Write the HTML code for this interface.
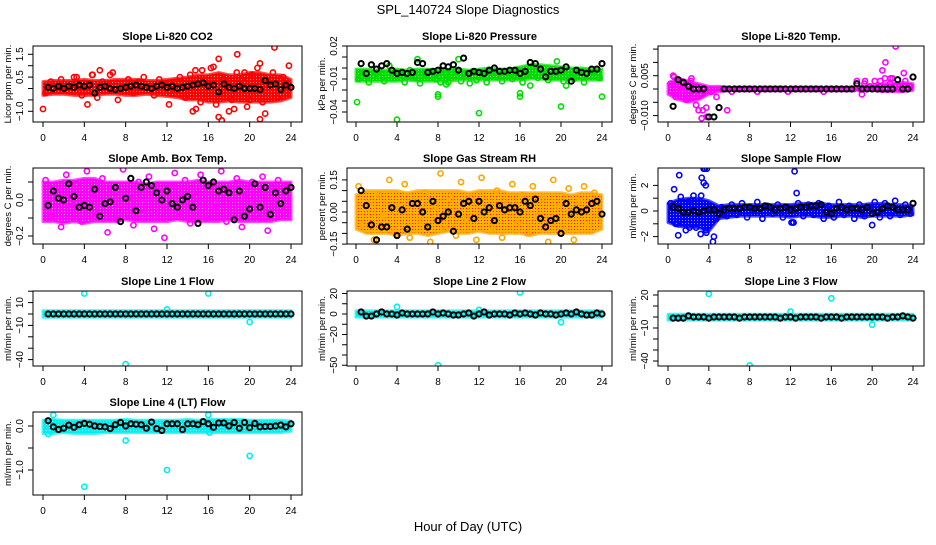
<!DOCTYPE html>
<html><head><meta charset="utf-8"><style>
body{margin:0;background:#fff}
svg text{font-family:"Liberation Sans",Arial,sans-serif}
</style></head><body>
<svg id="chart" width="936" height="540" xmlns="http://www.w3.org/2000/svg">
<rect width="936" height="540" fill="#fff"/>
<text x="468" y="14" text-anchor="middle" font-size="13">SPL_140724  Slope Diagnostics</text>
<text x="468" y="531" text-anchor="middle" font-size="13">Hour of Day (UTC)</text>
</svg>
<script>
// ---- data ----
const hourTicks=[0,4,8,12,16,20,24];
const co2Lo=[-0.3,-0.25,-0.25,-0.3,-0.3,-0.3,-0.25,-0.25,-0.3,-0.3,-0.25,-0.3,-0.35,-0.4,-0.5,-0.5,-0.6,-0.6,-0.55,-0.6,-0.6,-0.6,-0.6,-0.55,-0.4];
const co2Hi=[0.3,0.35,0.35,0.35,0.4,0.35,0.35,0.4,0.4,0.4,0.35,0.35,0.4,0.45,0.5,0.6,0.6,0.7,0.6,0.6,0.7,0.7,0.6,0.6,0.4];
const co2Col=[-0.2,0.3,0.1,0.4,-0.1,0.2,0.5,-0.3,0.1,0.6,-0.4,0.3,0.2,0.7,-0.5,0.1,0.4,-0.2,0.3,0.5,0.1,-0.3,0.4,0.2,-0.1,0.3,0.5,-0.4,0.6,0.8,-0.6,0.2,0.9,-0.7,0.5,0.3,-0.5,0.7,0.4,-0.8,0.6,0.9,-0.6,0.3,0.7,-0.4,0.5,0.2];
const co2Blk=[0.05,0.0,0.1,0.0,0.1,0.05,0.15,0.1,0.15,-0.2,0.05,0.1,0.0,-0.05,0.0,0.05,0.1,0.15,0.1,0.05,0.0,0.1,0.15,0.05,0.1,0.0,0.05,0.1,0.15,0.2,0.25,0.1,0.15,-0.15,0.2,0.05,0.0,0.1,0.0,0.0,0.0,-0.05,0.35,0.15,0.2,-0.05,0.15,0.05];
const co2OutX=[0,4.3,5.5,3,4.8,16.5,17,18.8,17,17.3,21,21.5,22.4,23.8,21,14.5,14.8,18,18.5,20,19.5,6.5,12.2,15.4];
const co2OutY=[-0.9,-0.7,0.8,0.5,0.6,0.95,1.3,1.5,-1.25,-1.4,-1.35,-1.1,1.8,1.0,1.1,-1.0,-0.9,-1.0,-0.9,-0.5,0.7,0.6,-0.7,0.8];

const presLo=[-0.012,-0.012,-0.012,-0.012,-0.012,-0.011,-0.012,-0.012,-0.012,-0.012,-0.011,-0.011,-0.011,-0.011,-0.011,-0.011,-0.011,-0.010,-0.010,-0.011,-0.011,-0.011,-0.011,-0.011,-0.011];
const presHi=[-0.001,-0.001,-0.002,-0.002,-0.001,-0.002,-0.001,-0.001,-0.002,-0.001,-0.001,-0.002,-0.001,0.000,-0.001,-0.001,0.001,0.003,0.003,0.002,0.001,0.000,0.000,-0.001,-0.001];
const presCol=[-0.010,-0.004,-0.013,-0.007,-0.003,-0.012,0.002,-0.009,-0.005,-0.013,-0.002,-0.008,-0.014,-0.006,-0.003,-0.010,-0.013,-0.005,-0.009,-0.003,-0.012,-0.007,-0.004,-0.011,-0.006,-0.013,-0.003,-0.008,-0.012,-0.005,-0.010,-0.002,-0.013,-0.006,0.002,-0.009,-0.004,-0.011,-0.007,-0.003,-0.012,-0.006,-0.010,-0.004,-0.013,-0.007,-0.003,-0.009];
const presBlk=[0.004,-0.005,0.003,-0.001,0.002,0.004,-0.002,-0.005,-0.004,-0.005,-0.004,0.005,0.004,-0.004,-0.003,-0.002,0.002,0.001,0.003,-0.002,0.009,-0.005,-0.003,-0.004,-0.005,-0.002,0.000,-0.003,-0.003,-0.002,-0.002,-0.005,-0.003,0.005,0.004,-0.001,-0.008,-0.003,-0.003,-0.002,0.001,-0.012,-0.002,-0.004,-0.005,-0.001,-0.001,0.004];
const presOutX=[0.1,4,8,8,12,16,16,20,24,11.1,8.8,9,17,20.5,6,10,19.6];
const presOutY=[-0.031,-0.047,-0.024,-0.026,-0.041,-0.023,-0.026,-0.035,-0.026,-0.014,-0.015,-0.013,-0.016,-0.016,0.008,0.008,0.006];

const tempLo=[-0.002,-0.004,-0.005,-0.004,-0.002,-0.001,-0.0005,0,0,0,0,0,0,0,0,0,0,0,0,-0.0005,-0.0005,-0.001,-0.001,-0.001,-0.0005];
const tempHi=[0.002,0.004,0.003,0.002,0.001,0.001,0.0005,0.0003,0.0003,0.0003,0.0003,0.0003,0.0003,0.0003,0.0003,0.0003,0.0003,0.0003,0.0003,0.001,0.0015,0.002,0.002,0.0025,0.002];
const tempCol=[0.002,-0.003,0.001,-0.004,0.003,-0.006,-0.002,-0.007,-0.001,-0.003,0,0,-0.001,0,0,0,0,-0.001,0,0,0,0,0,-0.001,0,0,0,0,0,0,-0.001,0,0,0,0,0,0,0,0.002,0.001,0.003,0.001,0.004,0.002,0.001,0,0.003,0.001];
const tempBlk=[-0.0065,0.0035,0.0025,0.001,0,0,0,-0.0105,-0.0105,-0.007,0,0,0,0,0,0,0,0,0,0,0,0,0,0,0,0,0,0,0,0,0,0,0,0,0,0,0.002,0,0,0,0,0,0,0,0.0035,0,0,0.0045];
const tempOutX=[0.5,0.6,2.3,3,3.4,3.3,3.8,5.8,20.8,21,21.3,22.3,23.1,18.5,19.3,19,21.8,22];
const tempOutY=[0.005,0.0045,0.004,-0.008,-0.008,-0.011,-0.0105,-0.008,0.003,0.007,0.010,0.016,0.006,0.003,0.003,-0.002,0.004,0.004];

const ambLo=[-0.12,-0.12,-0.13,-0.12,-0.13,-0.12,-0.12,-0.12,-0.11,-0.12,-0.12,-0.12,-0.12,-0.11,-0.12,-0.12,-0.12,-0.12,-0.11,-0.12,-0.12,-0.12,-0.12,-0.11,-0.11];
const ambHi=[0.10,0.10,0.11,0.11,0.12,0.12,0.10,0.10,0.10,0.10,0.09,0.10,0.10,0.10,0.10,0.11,0.10,0.10,0.10,0.11,0.10,0.10,0.10,0.10,0.10];
const ambCol=[0.11,-0.09,0.05,-0.15,0.14,-0.02,0.09,-0.12,0.16,0.03,-0.08,0.12,-0.18,0.06,-0.11,0.17,0.01,-0.14,0.10,-0.05,0.13,-0.16,0.04,-0.21,0.08,0.15,-0.07,0.11,-0.13,0.02,0.14,-0.10,0.09,-0.04,0.16,-0.12,0.06,0.12,-0.15,0.03,0.10,-0.08,0.13,-0.17,0.07,0.11,-0.06,0.08];
const ambBlk=[-0.03,0.05,0.01,0.0,0.09,0.02,-0.04,-0.03,-0.04,0.06,-0.09,-0.02,-0.01,0.07,-0.12,0.01,0.12,-0.06,0.07,0.10,0.08,0.04,0.0,0.05,-0.02,-0.04,0.0,0.02,-0.04,-0.13,0.11,0.08,0.10,0.05,0.06,0.04,-0.11,0.05,-0.09,-0.05,0.09,-0.04,0.07,-0.08,0.04,-0.02,0.05,0.07];

const rhLo=[-0.08,-0.1,-0.1,-0.1,-0.11,-0.1,-0.1,-0.11,-0.1,-0.09,-0.1,-0.1,-0.09,-0.1,-0.1,-0.1,-0.1,-0.11,-0.1,-0.1,-0.1,-0.1,-0.1,-0.1,-0.08];
const rhHi=[0.08,0.1,0.1,0.1,0.1,0.09,0.1,0.1,0.1,0.1,0.1,0.09,0.1,0.1,0.1,0.09,0.09,0.09,0.09,0.09,0.09,0.08,0.09,0.09,0.08];
const rhCol=[0.12,-0.06,0.04,-0.13,0.08,-0.02,0.15,-0.09,0.02,0.13,-0.12,0.05,-0.04,0.09,-0.14,0.03,0.18,-0.08,0.06,-0.11,0.14,-0.03,0.07,-0.13,0.16,0.01,-0.07,0.10,-0.12,0.04,0.13,-0.05,0.08,-0.10,0.12,-0.02,0.06,-0.14,0.15,0.02,-0.09,0.11,-0.13,0.05,0.12,-0.06,0.09,-0.02];
const rhBlk=[0.10,0.03,-0.06,-0.13,-0.07,-0.07,0.02,-0.11,0.01,-0.08,0.04,0.04,0.0,-0.07,0.05,-0.04,-0.02,0.0,-0.09,-0.01,0.04,0.05,-0.03,0.05,0.0,0.02,-0.04,0.03,0.01,0.02,0.02,0.0,0.05,0.03,0.06,-0.03,-0.07,-0.04,-0.03,-0.10,0.04,-0.01,0.01,0.0,0.01,0.04,0.05,-0.01];

const sfLo=[-0.9,-1.2,-1.3,-1.3,-1.6,-0.6,-0.5,-0.4,-0.4,-0.4,-0.4,-0.4,-0.5,-0.4,-0.4,-0.5,-0.5,-0.4,-0.4,-0.5,-0.4,-0.4,-0.4,-0.4,-0.3];
const sfHi=[0.6,0.9,1.0,1.0,0.8,0.4,0.5,0.5,0.5,0.5,0.5,0.5,0.5,0.6,0.6,0.6,0.5,0.5,0.5,0.5,0.6,0.6,0.5,0.5,0.4];
const sfCol=[0.6,-1.0,1.1,-1.5,0.8,-1.3,1.2,-1.7,0.4,-0.6,0.3,-0.4,0.5,-0.3,0.6,-0.5,0.2,0.7,-0.6,0.4,-0.2,0.5,-0.5,0.3,-0.9,0.6,-0.4,0.5,-0.3,0.6,-0.6,0.4,-0.5,0.7,-0.3,0.4,-0.6,0.5,-0.4,0.3,0.7,-0.5,0.6,-0.4,0.8,-0.3,0.5,-0.2];
const sfBlk=[0.3,0.2,-0.1,-0.1,0.0,-0.1,0.0,0.1,0.1,-0.2,0.1,0.2,0.2,0.2,0.3,0.3,0.2,0.2,0.4,0.3,0.1,0.2,0.3,0.1,0.2,0.3,0.3,0.4,0.4,0.5,-0.1,-0.2,0.2,0.3,0.1,0.2,0.2,0.1,0.3,-0.2,-0.1,0.2,0.4,0.3,0.1,0.1,0.1,0.6];
const sfOutX=[1.1,0.6,3.5,3.6,3.8,3.3,3.5,3.7,1,4.4,4.5,12.4,12.6,12.3,12.1,20,2.1,3.2,3.7,0.9,2.5];
const sfOutY=[2.8,1.7,3.3,3.3,3.3,2.6,2.2,2.0,-1.9,-2.4,-2.0,3.1,1.4,-0.9,-0.9,-1.1,-1.3,-1.8,-1.5,-1.0,1.2];

const l1Lo=[-2.8,-2.8,-2.8,-2.8,-2.8,-2.8,-2.8,-2.8,-2.8,-2.8,-2.8,-2.8,-2.8,-2.8,-2.8,-2.8,-2.8,-2.8,-2.8,-2.8,-2.8,-2.8,-2.8,-2.8,-2.8];
const l1Hi=[2.8,2.8,2.8,2.8,2.8,2.8,2.8,2.8,2.8,2.8,2.8,2.8,2.8,2.8,2.8,2.8,2.8,2.8,2.8,2.8,2.8,2.8,2.8,2.8,2.8];
const l1Blk=[0,0,0,0,0,0,0,0,0,0,0,0,0,0,0,0,0,0,0,0,0,0,0,0,0,0,0,0,0,0,0,0,0,0,0,0,0,0,0,0,0,0,0,0,0,0,0,0];
const l1OutX=[4,16,8,12,20];
const l1OutY=[18,18,-44,4,-7];

const l2Lo=[-3,-3,-3,-3,-3,-3,-3,-3,-3,-3,-3,-3,-3,-3,-3,-3,-3,-3,-3,-3,-3,-3,-3,-3,-3];
const l2Hi=[3,3,3,3,3,3,3,3,3,3,3,3,3,3,3,3,3,3,3,3,3,3,3,3,3];
const l2Blk=[2,-2,-2,0,2,0,0,-1,1,0,0,0,0,0,2,0,1,0,-1,-1,0,1,-2,0,2,-1,0,0,0,-1,1,0,1,0,-1,1,0,0,-1,0,1,0,2,0,-1,-1,1,0];
const l2OutX=[4,8,12,16,20];
const l2OutY=[7,-50,4,21,-8];

const l3Lo=[-2.8,-2.8,-2.8,-2.8,-2.8,-2.8,-2.8,-2.8,-2.8,-2.8,-2.8,-2.8,-2.8,-2.8,-2.8,-2.8,-2.8,-2.8,-2.8,-2.8,-2.8,-2.8,-2.8,-2.8,-2.8];
const l3Hi=[2.5,2.5,2.5,2.5,2.5,2.5,2.5,2.5,2.5,2.5,2.5,2.5,2.5,2.5,2.5,2.5,2.5,2.5,2.5,2.5,2.5,2.5,2.5,2.5,2.5];
const l3Blk=[-1,-1,-1,1,0,0,0,-1,0,0,0,0,0,-1,0,0,0,0,0,0,0,-1,0,0,-1,0,0,0,0,-1,0,0,0,-1,0,0,0,0,0,0,0,0,-1,0,0,1,0,-1];
const l3OutX=[4,8,12,16,20];
const l3OutY=[21,-44,5,17,-7];

const l4Lo=[-0.17,-0.17,-0.15,-0.17,-0.17,-0.17,-0.15,-0.15,-0.15,-0.15,-0.15,-0.15,-0.15,-0.15,-0.15,-0.15,-0.15,-0.15,-0.15,-0.15,-0.15,-0.15,-0.15,-0.15,-0.12];
const l4Hi=[0.13,0.15,0.13,0.13,0.13,0.13,0.13,0.13,0.15,0.13,0.13,0.13,0.13,0.13,0.15,0.13,0.15,0.15,0.15,0.15,0.13,0.13,0.13,0.13,0.11];
const l4Blk=[0.12,-0.02,-0.08,-0.05,0.02,-0.03,0.03,0.06,0.04,0.0,-0.01,-0.02,-0.06,0.03,0.08,0.0,0.05,0.04,0.03,-0.05,0.09,-0.06,-0.1,0.05,0.05,0.05,-0.08,0.05,0.05,0.03,0.1,0.05,-0.03,0.07,0.07,0.0,0.08,-0.05,0.08,-0.04,0.06,-0.02,-0.01,-0.01,0.0,0.02,-0.02,0.05];
const l4OutX=[4,8,12,20,1,16,0.5,16.1];
const l4OutY=[-1.38,-0.33,-1.0,-0.68,0.25,0.25,-0.18,-0.15];

// ---- layout ----
const cols=[{l:33,r:302,x0:43,x1:291},{l:347,r:612,x0:356,x1:602},{l:658,r:924,x0:668,x1:913}];
const rows=[{t:46,b:122},{t:168,b:244},{t:291,b:366},{t:412,b:495}];
const panels=[
 {name:"co2",title:"Slope Li-820 CO2",ylab:"Licor ppm per min.",c:0,r:0,color:"#ff0000",v0:0,p0:88.5,ppu:22.8,ticks:[1.5,1,0.5,0,-0.5,-1],labs:[1.5,0.5,-1],lf:v=>v.toFixed(1),lo:co2Lo,hi:co2Hi,col:co2Col,blk:co2Blk,ox:co2OutX,oy:co2OutY},
 {name:"pressure",title:"Slope Li-820 Pressure",ylab:"kPa per min.",c:1,r:0,color:"#00dd00",v0:0,p0:68,ppu:1100,ticks:[0.02,0.01,0,-0.01,-0.02,-0.03,-0.04],labs:[0.02,-0.01,-0.04],lf:v=>v.toFixed(2),lo:presLo,hi:presHi,col:presCol,blk:presBlk,ox:presOutX,oy:presOutY},
 {name:"licor-temp",title:"Slope Li-820 Temp.",ylab:"degrees C per min.",c:2,r:0,color:"#ff00ff",v0:0,p0:89,ppu:2660,ticks:[0.015,0.01,0.005,0,-0.005,-0.01],labs:[0.005,-0.01],lf:v=>v.toFixed(3),lo:tempLo,hi:tempHi,col:tempCol,blk:tempBlk,ox:tempOutX,oy:tempOutY},
 {name:"amb-box-temp",title:"Slope Amb. Box Temp.",ylab:"degrees C per min.",c:0,r:1,color:"#ff00ff",v0:0,p0:200,ppu:180,ticks:[0.1,0,-0.1,-0.2],labs:[0,-0.2],lf:v=>v.toFixed(1),lo:ambLo,hi:ambHi,col:ambCol,blk:ambBlk,ox:[],oy:[]},
 {name:"gas-stream-rh",title:"Slope Gas Stream RH",ylab:"percent per min.",c:1,r:1,color:"#ffa500",bandColor:"#ffb000",dot:"#ff0000",v0:0,p0:212,ppu:214,ticks:[0.15,0.1,0.05,0,-0.05,-0.1,-0.15],labs:[0.15,0,-0.15],lf:v=>v.toFixed(2),lo:rhLo,hi:rhHi,col:rhCol,blk:rhBlk,ox:[],oy:[]},
 {name:"sample-flow",title:"Slope Sample Flow",ylab:"ml/min per min.",c:2,r:1,color:"#0000ff",v0:0,p0:211,ppu:12.8,ticks:[2,1,0,-1,-2],labs:[2,0,-2],lf:v=>v.toFixed(0),lo:sfLo,hi:sfHi,col:sfCol,blk:sfBlk,ox:sfOutX,oy:sfOutY},
 {name:"line1-flow",title:"Slope Line 1 Flow",ylab:"ml/min per min.",c:0,r:2,color:"#00eeee",v0:0,p0:314,ppu:1.14,ticks:[20,10,0,-10,-20,-30,-40],labs:[10,-10,-40],lf:v=>v.toFixed(0),lo:l1Lo,hi:l1Hi,col:[],blk:l1Blk,ox:l1OutX,oy:l1OutY},
 {name:"line2-flow",title:"Slope Line 2 Flow",ylab:"ml/min per min.",c:1,r:2,color:"#00eeee",v0:0,p0:314,ppu:1.025,ticks:[20,10,0,-10,-20,-30,-40,-50],labs:[20,0,-20,-50],lf:v=>v.toFixed(0),lo:l2Lo,hi:l2Hi,col:[],blk:l2Blk,ox:l2OutX,oy:l2OutY},
 {name:"line3-flow",title:"Slope Line 3 Flow",ylab:"ml/min per min.",c:2,r:2,color:"#00eeee",v0:0,p0:317,ppu:1.1,ticks:[20,10,0,-10,-20,-30,-40],labs:[20,-10,-40],lf:v=>v.toFixed(0),lo:l3Lo,hi:l3Hi,col:[],blk:l3Blk,ox:l3OutX,oy:l3OutY},
 {name:"line4-flow",title:"Slope Line 4 (LT) Flow",ylab:"ml/min per min.",c:0,r:3,color:"#00eeee",v0:0,p0:426,ppu:44,ticks:[0,-0.5,-1],labs:[0,-1],lf:v=>v.toFixed(1),lo:l4Lo,hi:l4Hi,col:[],blk:l4Blk,ox:l4OutX,oy:l4OutY}
];
const NS="http://www.w3.org/2000/svg";
const svg=document.getElementById('chart');
function mk(tag,attrs,parent){const e=document.createElementNS(NS,tag);for(const k in attrs)e.setAttribute(k,attrs[k]);parent.appendChild(e);return e;}
const defs=mk('defs',{},svg);
panels.forEach(p=>{
 const C=cols[p.c],R=rows[p.r];
 const xs=h=>C.x0+(C.x1-C.x0)*h/24;
 const ys=v=>p.p0-(v-p.v0)*p.ppu;
 const g=mk('g',{},svg);
 
 
 const clip='clip-'+p.name;
 const cp=mk('clipPath',{id:clip},defs);mk('rect',{x:C.l,y:R.t,width:C.r-C.l,height:R.b-R.t},cp);
 const pid='pat-'+p.name;
 const pat=mk('pattern',{id:pid,width:3,height:3,patternUnits:'userSpaceOnUse'},defs);
 mk('rect',{x:0,y:0,width:3,height:3,fill:p.bandColor||p.color},pat);
 mk('rect',{x:1,y:1,width:1,height:1,fill:p.dot||'#ffffff',opacity:p.dot?0.9:0.6},pat);
 const t=mk('text',{x:(C.l+C.r)/2,y:R.t-6,'text-anchor':'middle','font-size':11,'font-weight':'bold'},g);t.textContent=p.title;
 
 
 const pg=mk('g',{'clip-path':'url(#'+clip+')'},g);
 let pts=p.lo.map((v,i)=>xs(i)+','+ys(v));
 for(let i=p.hi.length-1;i>=0;i--)pts.push(xs(i)+','+ys(p.hi[i]));
 const band=mk('polygon',{points:pts.join(' '),fill:'url(#'+pid+')',stroke:p.color,'stroke-width':3,'stroke-linejoin':'round','stroke-opacity':0.7},pg);
 
 
 const pt=(x,y,col,nm,w)=>{const c=mk('circle',{cx:x,cy:y,r:2.6,fill:'none',stroke:col,'stroke-width':w},pg);
  
  };
 p.col.forEach((v,i)=>pt(xs(i*24/p.col.length+0.25),ys(v),p.color,p.name+'-point',1.6));
 p.ox.forEach((x,i)=>pt(xs(x),ys(p.oy[i]),p.color,p.name+'-outlier',1.6));
 p.blk.forEach((v,i)=>pt(xs((i+1)*24/p.blk.length),ys(v),'#000',p.name+'-mean-point',2));
 const bx=mk('rect',{x:C.l,y:R.t,width:C.r-C.l,height:R.b-R.t,fill:'none',stroke:'#000','stroke-width':1},g);
 
 
 hourTicks.forEach(h=>{mk('line',{x1:xs(h),x2:xs(h),y1:R.b,y2:R.b+5,stroke:'#000'},g);
  const tl=mk('text',{x:xs(h),y:R.b+19,'text-anchor':'middle','font-size':10},g);tl.textContent=h;
  
  });
 p.ticks.forEach(v=>mk('line',{x1:C.l,x2:C.l-5,y1:ys(v),y2:ys(v),stroke:'#000'},g));
 p.labs.forEach(v=>{const y=ys(v);const tl=mk('text',{x:C.l-10,y:y,'text-anchor':'middle','font-size':10,transform:`rotate(-90 ${C.l-10} ${y})`},g);tl.textContent=p.lf(v).replace('-','\u2212');
  
  });
 const yl=(R.t+R.b)/2,xl=C.l-22;
 const yt=mk('text',{x:xl,y:yl,'text-anchor':'middle','font-size':9.5,transform:`rotate(-90 ${xl} ${yl})`},g);yt.textContent=p.ylab;
 
 
});
</script>
</body></html>
